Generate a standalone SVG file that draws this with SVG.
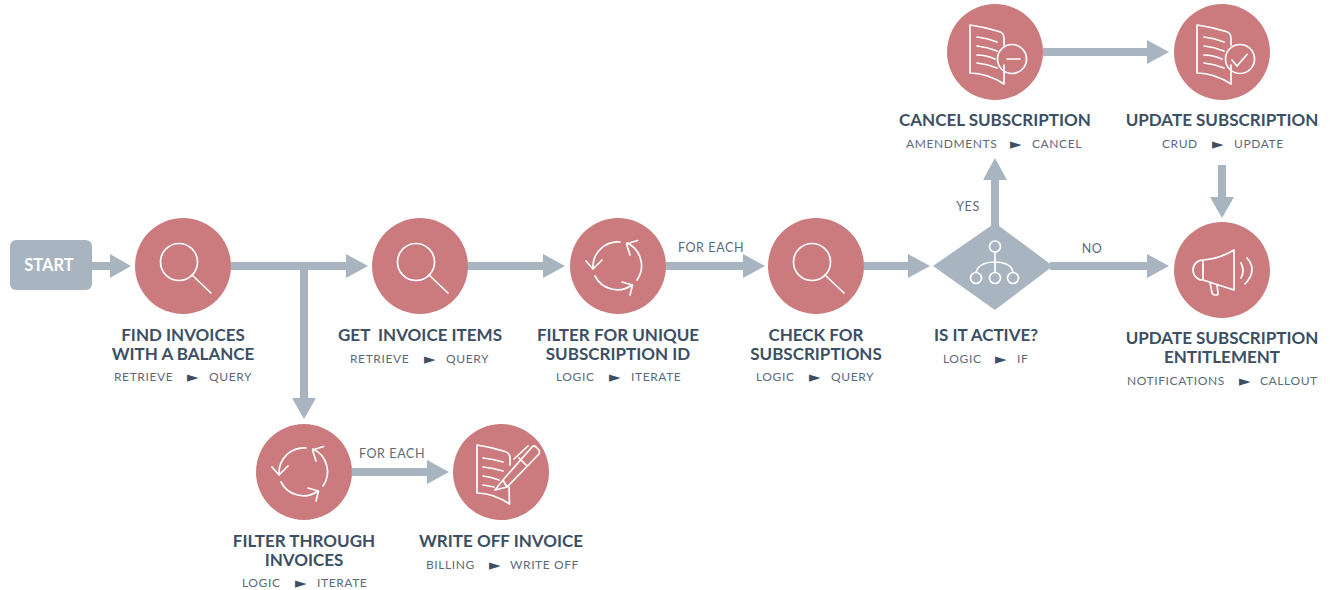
<svg xmlns="http://www.w3.org/2000/svg" xmlns:xlink="http://www.w3.org/1999/xlink" width="1330" height="590" viewBox="0 0 1330 590">
<style>
.bg{fill:#fff}
.c{fill:#cb7b7d}
.i{fill:none;stroke:#fff;stroke-width:1.7;stroke-linecap:round;stroke-linejoin:round}
.g{fill:#a8b4bf}
.t{font-family:"Lato","Liberation Sans",sans-serif;font-weight:700;font-size:17px;fill:#3c4f63;text-anchor:middle}
.s{font-family:"Lato","Liberation Sans",sans-serif;font-size:12px;letter-spacing:.6px;fill:#5b6b7c}
.a{font-family:"DejaVu Sans",sans-serif;font-size:15px;letter-spacing:0;fill:#3c4f63}
.l{font-family:"Lato","Liberation Sans",sans-serif;font-size:12.500px;letter-spacing:.6px;fill:#5b6b7c;text-anchor:middle}
.w{font-family:"Lato","Liberation Sans",sans-serif;font-weight:700;font-size:16.500px;fill:#fff;text-anchor:middle}
</style>
<defs>
<g id="mag"><circle cx="-4" cy="-4" r="18.500"/><path d="M9 9L28 27"/></g>
<g id="cyc"><path d="M2-24A25 25 0 0 0-25 2M-32-5L-25 3-16-6M-23 10A25 25 0 0 0 14 19M4 16L14.500 19 12 29M19 14A25 25 0 0 0 9-23M19.500-25.500L8.500-22 12-11"/></g>
<g id="doc"><path d="M9-7V-14Q9-19 4-20.500Q-10-25-25-27V21Q-8 21 9 32V13M-18-15Q-8-14 2-10M-18-6Q-8-5 2-1M-18 3Q-9 3 0 7M-18 11Q-8 12 2 16"/></g>
</defs>
<rect class="bg" width="1330" height="590"/>
<g id="connectors">
<path class="g" d="M92 262H110V254L131 266 110 278V270H92Z"/>
<path class="g" d="M231 262H346V254L368 266 346 278V270H308V398H316L304 419 292 398H300V270H231Z"/>
<path class="g" d="M468 262H543V254L565 266 543 278V270H468Z"/>
<path class="g" d="M666 262H743V254L765 266 743 278V270H666Z"/>
<path class="g" d="M864 262H908V254L930 266 908 278V270H864Z"/>
<path class="g" d="M1050 262H1147V254L1169 266 1147 278V270H1050Z"/>
<path class="g" d="M991 228V180H983L995 158 1007 180H999V228Z"/>
<path class="g" d="M1043 48H1147V40L1169 52 1147 64V56H1043Z"/>
<path class="g" d="M1218 165V197H1210L1222 218 1234 197H1226V165Z"/>
<path class="g" d="M352 468H427V460L449 472 427 484V476H352Z"/>
<text class="l" x="711" y="251.500">FOR EACH</text>
<text class="l" x="392" y="457.500">FOR EACH</text>
<text class="l" x="968" y="210.500">YES</text>
<text class="l" x="1092" y="252.500">NO</text>
</g>
<g id="start"><rect class="g" x="10" y="240" width="82" height="50" rx="6"/><text class="w" x="49" y="271">START</text></g>
<g id="find-invoices"><circle class="c" cx="183" cy="266" r="48"/><use href="#mag" class="i" x="183" y="266"/><text class="t" x="183" y="341">FIND INVOICES</text><text class="t" x="183" y="360">WITH A BALANCE</text><text class="s" y="381"><tspan x="114">RETRIEVE</tspan><tspan class="a" x="187" dy="1">►</tspan><tspan x="209" dy="-1">QUERY</tspan></text></g>
<g id="get-items"><circle class="c" cx="420" cy="266" r="48"/><use href="#mag" class="i" x="420" y="266"/><text class="t" x="420" y="341" xml:space="preserve">GET  INVOICE ITEMS</text><text class="s" y="363"><tspan x="350">RETRIEVE</tspan><tspan class="a" x="424" dy="1">►</tspan><tspan x="446" dy="-1">QUERY</tspan></text></g>
<g id="filter-unique"><circle class="c" cx="618" cy="266" r="48"/><use href="#cyc" class="i" x="618" y="266"/><text class="t" x="618" y="341">FILTER FOR UNIQUE</text><text class="t" x="618" y="360">SUBSCRIPTION ID</text><text class="s" y="381"><tspan x="556">LOGIC</tspan><tspan class="a" x="609" dy="1">►</tspan><tspan x="631" dy="-1">ITERATE</tspan></text></g>
<g id="check-subs"><circle class="c" cx="816" cy="266" r="48"/><use href="#mag" class="i" x="816" y="266"/><text class="t" x="816" y="341">CHECK FOR</text><text class="t" x="816" y="360">SUBSCRIPTIONS</text><text class="s" y="381"><tspan x="756">LOGIC</tspan><tspan class="a" x="809" dy="1">►</tspan><tspan x="831" dy="-1">QUERY</tspan></text></g>
<g id="is-active"><path class="g" d="M933 266L995 223 1053 266 995 310Z"/><g class="i" transform="translate(995 266)"><circle cy="-19.500" r="5.500"/><circle cx="-19" cy="12" r="5.500"/><circle cy="12" r="5.500"/><circle cx="18" cy="12" r="5.500"/><path d="M0-14V6.500M-19 6.500C-17-2-7-4 0-4S17-2 18 6.500"/></g><text class="t" x="986" y="341">IS IT ACTIVE?</text><text class="s" y="363"><tspan x="943">LOGIC</tspan><tspan class="a" x="995" dy="1">►</tspan><tspan x="1017" dy="-1">IF</tspan></text></g>
<g id="cancel-sub"><circle class="c" cx="995" cy="52" r="48"/><g class="i" transform="translate(995 52)"><use href="#doc"/><circle cx="17" cy="7" r="14.500"/><path d="M12 7H25"/></g><text class="t" x="995" y="126">CANCEL SUBSCRIPTION</text><text class="s" y="148"><tspan x="906">AMENDMENTS</tspan><tspan class="a" x="1010" dy="1">►</tspan><tspan x="1032" dy="-1">CANCEL</tspan></text></g>
<g id="update-sub"><circle class="c" cx="1222" cy="52" r="48"/><g class="i" transform="translate(1222 52)"><use href="#doc"/><circle cx="18" cy="7" r="14.500"/><path d="M10 8L15 14 25 2.500"/></g><text class="t" x="1222" y="126">UPDATE SUBSCRIPTION</text><text class="s" y="148"><tspan x="1162">CRUD</tspan><tspan class="a" x="1212" dy="1">►</tspan><tspan x="1234" dy="-1">UPDATE</tspan></text></g>
<g id="entitlement"><circle class="c" cx="1222" cy="270" r="48"/><g class="i" transform="translate(1222 270)"><path d="M12-20V20L-19 10A10 10 0 0 1-19-10Q-3-11 12-20ZM-19-10V10M-12 12L-10 23Q-9 25-7 25H-5Q-4 25-4 23L-5 15M19-7Q23 1 19 8M25-12Q36 0 23 14"/></g><text class="t" x="1222" y="344">UPDATE SUBSCRIPTION</text><text class="t" x="1222" y="363">ENTITLEMENT</text><text class="s" y="385"><tspan x="1127">NOTIFICATIONS</tspan><tspan class="a" x="1239" dy="1">►</tspan><tspan x="1260" dy="-1">CALLOUT</tspan></text></g>
<g id="filter-invoices"><circle class="c" cx="304" cy="472" r="48"/><use href="#cyc" class="i" x="304" y="472"/><text class="t" x="304" y="547">FILTER THROUGH</text><text class="t" x="304" y="566">INVOICES</text><text class="s" y="587"><tspan x="242">LOGIC</tspan><tspan class="a" x="295" dy="1">►</tspan><tspan x="317" dy="-1">ITERATE</tspan></text></g>
<g id="write-off"><circle class="c" cx="501" cy="472" r="48"/><g class="i" transform="translate(501 472)"><path d="M9-7V-14Q9-19 4-20.500Q-10-25-24-27V21Q-8 21 8.500 32L8 15M-18-14Q-8-13 2-10M-18-5Q-8-4 2-1M-18 4Q-10 5-2 8M-18 13L-7 15M2 8L31-25Q33-27 35-25L38-22Q39-20 38-18L6 15 2 8ZM2 8L-6 18 6 15M13-13L27-26M18-14L25-7"/></g><text class="t" x="501" y="547">WRITE OFF INVOICE</text><text class="s" y="569"><tspan x="426">BILLING</tspan><tspan class="a" x="489" dy="1">►</tspan><tspan x="510" dy="-1">WRITE OFF</tspan></text></g>
</svg>
